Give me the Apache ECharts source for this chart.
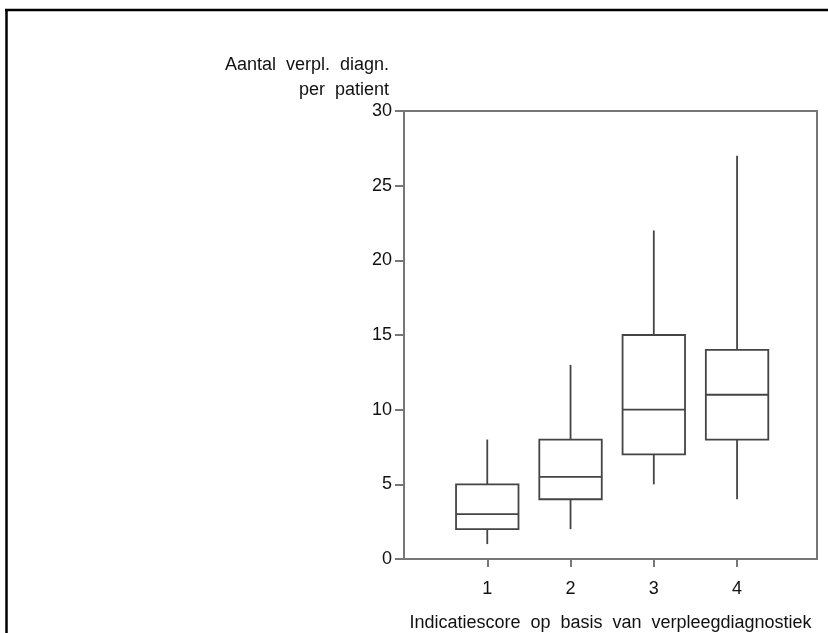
<!DOCTYPE html>
<html>
<head>
<meta charset="utf-8">
<script src="https://cdn.jsdelivr.net/npm/echarts@6/dist/echarts.min.js"></script>
<style>
  html, body { margin: 0; padding: 0; background: #fff; }
  #chart { width: 828px; height: 633px; }
</style>
</head>
<body>
<div id="chart"></div>
<script>
// Indicatiescore groups and box statistics: [min, Q1, median, Q3, max]
const scores = [1, 2, 3, 4];
const whiskerLow = [1, 2, 5, 4];
const quartile1 = [2, 4, 7, 8];
const medians = [3, 5.5, 10, 11];
const quartile3 = [5, 8, 15, 14];
const whiskerHigh = [8, 13, 22, 27];
const yTicks = [0, 5, 10, 15, 20, 25, 30];

const FONT = 'Liberation Sans, Arial, sans-serif';
const TEXT = '#111';
const LINE = '#444';
const AXIS = '#777';

const boxData = scores.map((s, i) => [s, whiskerLow[i], quartile1[i], medians[i], quartile3[i], whiskerHigh[i]]);

function renderBox(params, api) {
  const x = api.value(0);
  const lo = api.coord([x, api.value(1)]);
  const q1 = api.coord([x, api.value(2)]);
  const md = api.coord([x, api.value(3)]);
  const q3 = api.coord([x, api.value(4)]);
  const hi = api.coord([x, api.value(5)]);
  const half = api.size([0.75, 0])[0] / 2;
  const style = { stroke: LINE, lineWidth: 1.8, fill: null };
  return {
    type: 'group',
    children: [
      { type: 'line', shape: { x1: lo[0], y1: lo[1], x2: q1[0], y2: q1[1] }, style },
      { type: 'line', shape: { x1: q3[0], y1: q3[1], x2: hi[0], y2: hi[1] }, style },
      { type: 'rect', shape: { x: q3[0] - half, y: q3[1], width: half * 2, height: q1[1] - q3[1] }, style },
      { type: 'line', shape: { x1: md[0] - half, y1: md[1], x2: md[0] + half, y2: md[1] }, style }
    ]
  };
}

const chart = echarts.init(document.getElementById('chart'), null, { renderer: 'canvas' });
chart.setOption({
  animation: false,
  backgroundColor: '#fff',
  grid: {
    left: 404, top: 111, width: 413, height: 448,
    outerBoundsMode: 'none',
    containLabel: false,
    show: true, borderColor: AXIS, borderWidth: 2, backgroundColor: 'transparent'
  },
  xAxis: {
    type: 'value',
    min: 0, max: 4.96, interval: 1,
    splitLine: { show: false },
    axisLine: { lineStyle: { color: AXIS, width: 2 } },
    axisTick: { show: true, length: 8, customValues: scores, lineStyle: { color: AXIS, width: 2 } },
    axisLabel: {
      customValues: scores,
      margin: 21,
      color: TEXT, fontFamily: FONT, fontSize: 18
    },
    name: 'Indicatiescore  op  basis  van  verpleegdiagnostiek',
    nameLocation: 'middle',
    nameGap: 55,
    nameTextStyle: { color: TEXT, fontFamily: FONT, fontSize: 18 }
  },
  yAxis: {
    type: 'value',
    min: 0, max: 30, interval: 5,
    splitLine: { show: false },
    axisLine: { show: true, lineStyle: { color: AXIS, width: 2 } },
    axisTick: { show: true, length: 9, lineStyle: { color: AXIS, width: 2 } },
    axisLabel: {
      customValues: yTicks,
      margin: 12,
      color: TEXT, fontFamily: FONT, fontSize: 18
    }
  },
  graphic: [
    { type: 'line', shape: { x1: 5, y1: 10, x2: 828, y2: 10 }, style: { stroke: '#000', lineWidth: 2.5 } },
    { type: 'line', shape: { x1: 6.5, y1: 10, x2: 6.5, y2: 633 }, style: { stroke: '#000', lineWidth: 2.5 } },
    {
      type: 'text', x: 389, y: 53,
      style: {
        text: 'Aantal  verpl.  diagn.\nper  patient',
        align: 'right', verticalAlign: 'top', lineHeight: 25,
        fill: TEXT, font: '18px ' + FONT
      }
    }
  ],
  series: [{
    type: 'custom',
    renderItem: renderBox,
    encode: { x: 0, y: [1, 2, 3, 4, 5] },
    data: boxData
  }]
});
</script>
</body>
</html>
